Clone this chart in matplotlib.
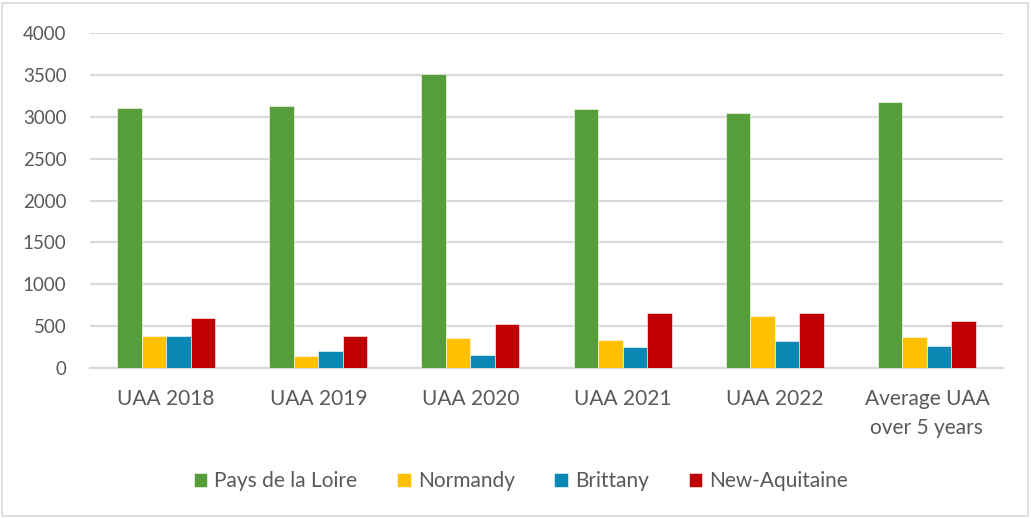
import matplotlib
matplotlib.use("Agg")
import matplotlib.pyplot as plt
import numpy as np
from matplotlib.patches import Rectangle

# UAA by region, in hectares
categories = ["UAA 2018", "UAA 2019", "UAA 2020", "UAA 2021", "UAA 2022",
              "Average UAA\nover 5 years"]
pays_de_la_loire = [3108, 3128, 3511, 3088, 3044, 3176]
normandy = [387, 148, 359, 339, 626, 371]
brittany = [387, 203, 152, 251, 323, 263]
new_aquitaine = [599, 387, 527, 658, 658, 567]

series = [
    ("Pays de la Loire", pays_de_la_loire, "#559E3A"),
    ("Normandy", normandy, "#FFC000"),
    ("Brittany", brittany, "#0A87B3"),
    ("New-Aquitaine", new_aquitaine, "#C00000"),
]

plt.rcParams['font.family'] = ['Lato', 'DejaVu Sans']
TXT = "#595959"
GRID = "#d9d9d9"

fig = plt.figure(figsize=(10.31, 5.18), dpi=100, facecolor="white")
ax = fig.add_axes([90 / 1031, 1 - 368 / 518, 913 / 1031, 335 / 518])

x = np.arange(len(categories))
w = 0.161
for i, (name, vals, col) in enumerate(series):
    ax.bar(x + (i - 1.5) * w, vals, width=w, color=col, label=name,
           edgecolor="white", linewidth=0.4, zorder=3)

ax.set_xlim(-0.5, len(categories) - 0.5)
ax.set_ylim(0, 4000)
ax.set_yticks(range(0, 4001, 500))
ax.yaxis.grid(True, color=GRID, linewidth=1.6, zorder=0)
ax.set_axisbelow(True)
for s in ["top", "right", "left"]:
    ax.spines[s].set_visible(False)
ax.spines["bottom"].set_color(GRID)
ax.spines["bottom"].set_linewidth(1.6)
ax.tick_params(axis="y", length=0, pad=17, labelsize=13.5, labelcolor=TXT)
ax.tick_params(axis="x", length=0, pad=15, labelsize=15, labelcolor=TXT)
ax.set_xticks(x)
ax.set_xticklabels(categories, linespacing=1.55, va="top")

ax.legend(loc="center", bbox_to_anchor=(521 / 1031, 1 - 481 / 518),
          bbox_transform=fig.transFigure, ncol=4, frameon=False,
          fontsize=15, labelcolor=TXT, handlelength=0.65, handleheight=0.65,
          handletextpad=0.35, columnspacing=1.9)

# thin frame around the whole chart
fig.patches.append(Rectangle((2 / 1031, 2 / 518), 1026 / 1031, 513 / 518,
                             transform=fig.transFigure, fill=False,
                             edgecolor=GRID, linewidth=1.2))

fig.savefig("out.png", dpi=100, facecolor="white")
